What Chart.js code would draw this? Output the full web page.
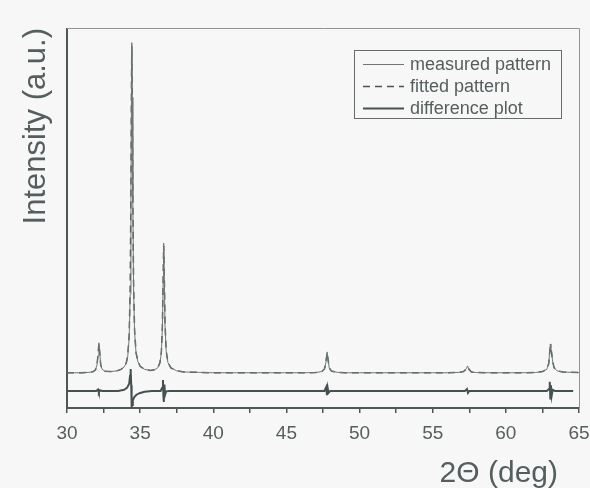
<!DOCTYPE html>
<html>
<head>
<meta charset="utf-8">
<title>XRD pattern</title>
<script src="https://cdn.jsdelivr.net/npm/chart.js@4.4.1/dist/chart.umd.min.js"></script>
<style>
 html, body { margin: 0; padding: 0; background: #f7f7f7; }
 #wrap { width: 590px; height: 488px; }
</style>
</head>
<body>
<div id="wrap"><canvas id="xrdChart" width="590" height="488"></canvas></div>
<script>
// 2theta positions shared by measured and fitted pattern
var twoTheta = [
 30.0, 30.5, 31.0, 31.5, 31.8, 31.95, 32.05, 32.12, 32.18, 32.24, 32.3, 32.4, 32.6,
 33.0, 33.4, 33.7, 33.9, 34.05, 34.15, 34.25, 34.32, 34.37, 34.41, 34.43, 34.46, 34.5,
 34.55, 34.62, 34.72, 34.85, 35.0, 35.3, 35.7, 36.0, 36.2, 36.35, 36.45, 36.52, 36.57,
 36.61, 36.65, 36.7, 36.78, 36.9, 37.1, 37.5, 38.0, 39, 40, 41, 42, 43, 44, 45, 46, 47,
 47.4, 47.6, 47.7, 47.78, 47.85, 47.93, 48.1, 48.5, 49, 50, 51, 52, 53, 54, 55, 56, 56.8,
 57.1, 57.3, 57.38, 57.48, 57.65, 58, 59, 60, 61, 62, 62.5, 62.8, 62.93, 63.0, 63.04,
 63.08, 63.13, 63.2, 63.3, 63.5, 63.9, 64.5, 65
];

var measured = [
 9.3, 9.3, 9.3, 9.4, 9.6, 10.2, 11.3, 13.8, 17.2, 14.5, 11.6, 10.2, 9.7,
 9.6, 9.8, 10.2, 10.8, 11.8, 13.5, 18.5, 30, 55, 85, 96.4, 82, 55,
 32, 20, 14.5, 12.2, 11.0, 10.2, 9.9, 10.1, 10.6, 11.8, 14.5, 21, 33,
 43.5, 35, 22, 15, 12, 10.6, 9.8, 9.5, 9.4, 9.3, 9.3, 9.3, 9.3, 9.3, 9.3, 9.3, 9.35,
 9.6, 10.3, 12.0, 14.8, 12.6, 10.5, 9.7, 9.4, 9.3, 9.3, 9.3, 9.3, 9.3, 9.3, 9.3, 9.3, 9.4,
 9.6, 10.4, 11.1, 10.2, 9.5, 9.35, 9.3, 9.3, 9.3, 9.35, 9.6, 10.2, 11.8, 15.2, 16.9,
 15.8, 14.6, 12.2, 10.6, 9.8, 9.5, 9.4, 9.35
];

var fitted = [
 9.3, 9.3, 9.3, 9.4, 9.6, 10.1, 11.4, 14.0, 16.9, 14.7, 11.5, 10.2, 9.7,
 9.6, 9.8, 10.2, 10.9, 11.9, 13.8, 19.2, 31.5, 57, 86, 95.5, 83, 56.5,
 33, 20.5, 14.6, 12.3, 11.0, 10.2, 9.9, 10.1, 10.6, 11.9, 14.8, 21.5, 33.8,
 42.8, 35.5, 22.4, 15.1, 12, 10.6, 9.8, 9.5, 9.4, 9.3, 9.3, 9.3, 9.3, 9.3, 9.3, 9.3, 9.35,
 9.6, 10.3, 12.1, 14.6, 12.7, 10.5, 9.7, 9.4, 9.3, 9.3, 9.3, 9.3, 9.3, 9.3, 9.3, 9.3, 9.4,
 9.6, 10.3, 10.9, 10.2, 9.5, 9.35, 9.3, 9.3, 9.3, 9.35, 9.6, 10.2, 11.7, 14.8, 16.2,
 15.9, 14.4, 12.3, 10.6, 9.8, 9.5, 9.4, 9.35
];

var diffTheta = [
 30.0, 31.0, 32.0, 32.12, 32.18, 32.25, 32.4, 33.5, 33.9, 34.1, 34.25, 34.31, 34.35,
 34.39, 34.42, 34.45, 34.5, 34.6, 34.75, 34.95, 35.3, 35.8, 36.4, 36.5, 36.56, 36.59,
 36.62, 36.66, 36.7, 36.78, 37.0, 40, 44, 47.6, 47.72, 47.77, 47.82, 47.88, 48.0, 52,
 57.2, 57.34, 57.41, 57.5, 62.8, 62.95, 63.0, 63.04, 63.08, 63.13, 63.2, 63.35, 64.6
];

var difference = [
 4.5, 4.5, 4.5, 4.9, 4.1, 4.7, 4.5, 4.5, 4.8, 5.3, 6.4, 8.5, 10.3,
 6.0, 0.3, 0.8, 2.0, 2.9, 3.5, 3.9, 4.3, 4.5, 4.5, 5.3, 7.4, 3.2,
 1.6, 6.2, 3.4, 4.4, 4.5, 4.5, 4.5, 4.5, 5.5, 3.4, 5.3, 4.0, 4.5, 4.5,
 4.5, 5.0, 4.0, 4.5, 4.5, 5.0, 6.9, 2.5, 6.0, 3.2, 4.8, 4.5, 4.5
];

var xTicks = [30, 35, 40, 45, 50, 55, 60, 65];
var seriesLabels = ["measured pattern", "fitted pattern", "difference plot"];

var inkColor = "#555e5e";
var fontFamily = "'Liberation Sans', Arial, sans-serif";

function toPoints(xs, ys) {
 return xs.map(function (x, i) {
  return { x: x, y: ys[i] };
 });
}

// top and right frame lines are thinner and lighter than the axes
var framePlugin = {
 id: "frame",
 afterDraw: function (chart) {
  var a = chart.chartArea;
  var ctx = chart.ctx;
  ctx.save();
  ctx.strokeStyle = "#8f9595";
  ctx.lineWidth = 1;
  ctx.beginPath();
  ctx.moveTo(a.left, a.top - 0.5);
  ctx.lineTo(a.right + 0.5, a.top - 0.5);
  ctx.lineTo(a.right + 0.5, a.bottom);
  ctx.stroke();
  ctx.restore();
 },
};

var boxLegendPlugin = {
 id: "boxLegend",
 afterDraw: function (chart) {
  var ctx = chart.ctx;
  var rows = [64, 86, 108];
  ctx.save();
  ctx.fillStyle = "#f7f7f7";
  ctx.fillRect(355, 51, 206, 67);
  ctx.strokeStyle = "#666d6d";
  ctx.lineWidth = 1;
  ctx.strokeRect(354.5, 50.5, 207, 68);
  chart.data.datasets.forEach(function (ds, i) {
   ctx.strokeStyle = ds.borderColor;
   ctx.lineWidth = ds.borderWidth;
   ctx.setLineDash(ds.borderDash || []);
   ctx.beginPath();
   ctx.moveTo(363, rows[i] + 0.5);
   ctx.lineTo(404, rows[i] + 0.5);
   ctx.stroke();
   ctx.setLineDash([]);
   ctx.fillStyle = inkColor;
   ctx.font = "18px " + fontFamily;
   ctx.textBaseline = "middle";
   ctx.textAlign = "left";
   ctx.fillText(ds.label, 410, rows[i] + 1);
  });
  ctx.restore();
 },
};

var axisTitlePlugin = {
 id: "axisTitles",
 afterDraw: function (chart) {
  var ctx = chart.ctx;
  ctx.save();
  ctx.fillStyle = inkColor;
  ctx.textBaseline = "alphabetic";
  ctx.font = "30px " + fontFamily;
  ctx.textAlign = "right";
  ctx.fillText("2\u0398 (deg)", 558, 482);
  ctx.font = "31px " + fontFamily;
  ctx.translate(45, 28);
  ctx.rotate(-Math.PI / 2);
  ctx.fillText("Intensity (a.u.)", 0, 0);
  ctx.restore();
 },
};

var ctx = document.getElementById("xrdChart");

new Chart(ctx, {
 type: "line",
 data: {
  datasets: [
   {
    label: seriesLabels[0],
    data: toPoints(twoTheta, measured),
    borderColor: "#6e7777",
    borderWidth: 1,
    pointRadius: 0,
    tension: 0,
   },
   {
    label: seriesLabels[1],
    data: toPoints(twoTheta, fitted),
    borderColor: "#4b5454",
    borderWidth: 1.5,
    borderDash: [7, 5],
    pointRadius: 0,
    tension: 0,
   },
   {
    label: seriesLabels[2],
    data: toPoints(diffTheta, difference),
    borderColor: "#465050",
    borderWidth: 2,
    pointRadius: 0,
    tension: 0,
   },
  ],
 },
 options: {
  responsive: false,
  animation: false,
  layout: {
   padding: { top: 29, right: 11, left: 0, bottom: 0 },
  },
  plugins: {
   legend: { display: false },
   tooltip: { enabled: false },
  },
  scales: {
   x: {
    type: "linear",
    min: 30,
    max: 65,
    afterFit: function (scale) {
     scale.height = 80;
     scale.paddingLeft = 0;
     scale.paddingRight = 0;
    },
    ticks: {
     stepSize: 2.5,
     autoSkip: false,
     maxRotation: 0,
     padding: 9,
     color: inkColor,
     font: { size: 19, family: fontFamily },
     callback: function (value) {
      return xTicks.indexOf(value) >= 0 ? String(value) : "";
     },
    },
    grid: {
     drawOnChartArea: false,
     tickLength: 5,
     color: "#4e5656",
     lineWidth: 1.5,
    },
    border: { color: "#4e5656", width: 2 },
   },
   y: {
    min: 0,
    max: 100,
    afterFit: function (scale) {
     scale.width = 67;
    },
    ticks: { display: false },
    grid: { display: false },
    border: { color: "#4e5656", width: 2 },
   },
  },
 },
 plugins: [framePlugin, boxLegendPlugin, axisTitlePlugin],
});
</script>
</body>
</html>
